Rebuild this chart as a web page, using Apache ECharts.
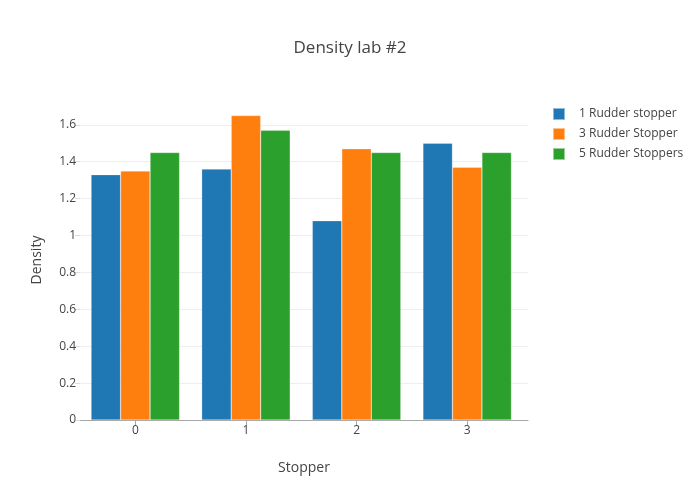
<!DOCTYPE html>
<html>
<head>
<meta charset="utf-8">
<script src="https://cdn.jsdelivr.net/npm/echarts@6/dist/echarts.min.js"></script>
<style>html,body{margin:0;padding:0;background:#fff}#c{width:700px;height:500px}</style>
</head>
<body>
<div id="c"></div>
<script>
const categories = ['0', '1', '2', '3'];
const seriesNames = ['1 Rudder stopper', '3 Rudder Stopper', '5 Rudder Stoppers'];
const oneRudder = [1.33, 1.36, 1.08, 1.5];
const threeRudder = [1.35, 1.65, 1.47, 1.37];
const fiveRudder = [1.45, 1.57, 1.45, 1.45];
const colors = ['#1f77b4', '#ff7f0e', '#2ca02c'];

const chart = echarts.init(document.getElementById('c'));
const font = '"Open Sans", sans-serif';
const values = [oneRudder, threeRudder, fiveRudder];
const yMax = 1.7345;
const labelFmt = v => {
  const r = Math.round(v * 10) / 10;
  if (Math.abs(r * 5 - Math.round(r * 5)) > 1e-6) return '';
  return String(r);
};
chart.setOption({
  animation: false,
  color: colors,
  textStyle: { fontFamily: font, color: '#444' },
  title: {
    text: 'Density lab #2', left: 'center', top: 35,
    textStyle: { fontFamily: font, fontSize: 17, fontWeight: 'normal', color: '#444' }
  },
  legend: {
    orient: 'vertical', left: 547, top: 102, itemWidth: 12, itemHeight: 12, itemGap: 6,
    icon: 'rect',
    textStyle: { fontFamily: font, fontSize: 12, color: '#444', lineHeight: 13, padding: [0, 0, 0, 9] },
    data: seriesNames
  },
  grid: [
    { left: 80, right: 172, top: 100, bottom: 80 },
    { left: 80, right: 177.5, top: 100, bottom: 80 }
  ],
  xAxis: [
    {
      type: 'value', gridIndex: 0, min: 0, max: 1,
      name: 'Stopper', nameLocation: 'middle', nameGap: 41,
      nameTextStyle: { fontFamily: font, fontSize: 14, color: '#444' },
      axisLine: { show: true, onZero: false, lineStyle: { color: '#a6a6a6', width: 1 } },
      axisTick: { show: false }, axisLabel: { show: false }, splitLine: { show: false }
    },
    {
      type: 'category', gridIndex: 1, data: categories,
      axisLine: { show: false },
      axisTick: { show: true, alignWithLabel: true, length: 5, lineStyle: { color: '#a6a6a6' } },
      axisLabel: { fontFamily: font, fontSize: 12, color: '#444', margin: 5 }
    }
  ],
  yAxis: [
    {
      type: 'value', gridIndex: 0, min: 0, max: yMax, interval: 0.2,
      name: 'Density', nameLocation: 'middle', nameGap: 36,
      nameTextStyle: { fontFamily: font, fontSize: 14, color: '#444' },
      axisLine: { show: false },
      axisTick: { show: true, length: 5, lineStyle: { color: '#ddd' } },
      splitLine: { showMaxLine: false, lineStyle: { color: '#eee', width: 1 } },
      axisLabel: { fontFamily: font, fontSize: 12, color: '#444', margin: 4, showMaxLabel: false, formatter: labelFmt }
    },
    {
      type: 'value', gridIndex: 1, min: 0, max: yMax, interval: 0.2, show: false
    }
  ],
  series: values.map((d, i) => ({
    name: seriesNames[i], type: 'bar', data: d, xAxisIndex: 1, yAxisIndex: 1,
    barGap: '0%', barCategoryGap: '20%',
    itemStyle: { color: colors[i], borderColor: 'rgba(255,255,255,0.5)', borderWidth: 0.5 }
  }))
});
</script>
</body>
</html>
